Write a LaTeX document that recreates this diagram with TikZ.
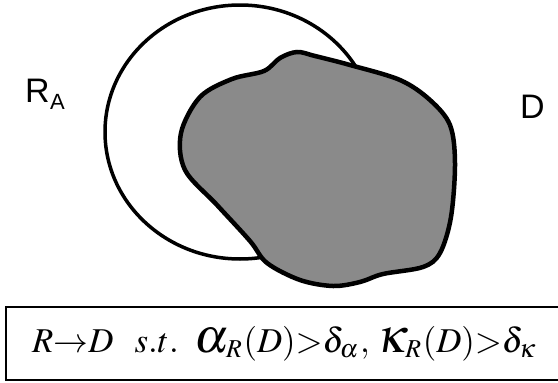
\documentclass[tikz,border=0pt]{standalone}
\usepackage{fontspec}
\usepackage{mathptmx}
\usepackage{graphicx}
\newfontfamily\arialf{Liberation Sans}
\newcommand{\bigalph}{\mathord{\scalebox{1.4}{$\alpha$}}}
\newcommand{\bigkap}{\mathord{\scalebox{1.4}{$\kappa$}}}
\begin{document}
\begin{tikzpicture}[x=1pt,y=-1pt,
  lbl/.style={font=\arialf\fontsize{34}{34}\selectfont, inner sep=0pt, anchor=base west},
  sublbl/.style={font=\arialf\fontsize{22}{22}\selectfont, inner sep=0pt, anchor=base west}]
\useasboundingbox (0,0) rectangle (558,383);
% region R_A
\draw[line width=3.5pt] (240,132) ellipse [x radius=135, y radius=127];
% region D
\draw[line width=4.5pt, fill={rgb,255:red,138;green,138;blue,138}]
  plot[smooth cycle, tension=0.55] coordinates {
  (264,71) (280,58) (297,52) (315,56) (350,65) (400,80) (430,100) (450,125)
  (455,163) (451,217) (440,253) (423,267) (383,274) (360,282) (333,286)
  (300,280) (267,263) (250,241) (217,205) (185,170) (181,133) (200,97) (232,79)};
\node[lbl] (ra) at (25,102) {R};
\node[sublbl] (ra-sub) at (50,109) {A};
\node[lbl] (d) at (520,118) {D};
% condition box
\draw[line width=2pt] (6,307) rectangle (562,380);
\node[inner sep=0pt, anchor=base west] (cond) at (32,352)
  {\resizebox{505pt}{!}{$R{\rightarrow}D\enspace\, s.t.\;\; \bigalph_{\!R}(D){>}\delta_\alpha,\,\bigkap_{\!R}(D){>}\delta_\kappa$}};
\end{tikzpicture}
\end{document}
